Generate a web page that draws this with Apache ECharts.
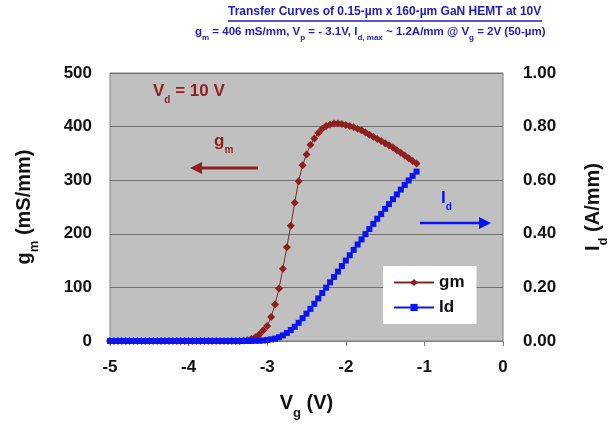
<!DOCTYPE html>
<html>
<head>
<meta charset="utf-8">
<script src="https://cdn.jsdelivr.net/npm/echarts@6/dist/echarts.min.js"></script>
<style>html,body{margin:0;padding:0;background:#fff}#c{width:611px;height:427px}</style>
</head>
<body>
<div id="c"></div>
<script>
var vg = [-5,-4.95,-4.9,-4.85,-4.8,-4.75,-4.7,-4.65,-4.6,-4.55,-4.5,-4.45,-4.4,-4.35,-4.3,-4.25,-4.2,-4.15,-4.1,-4.05,
-4,-3.95,-3.9,-3.85,-3.8,-3.75,-3.7,-3.65,-3.6,-3.55,-3.5,-3.45,-3.4,-3.35,-3.3,-3.25,-3.2,-3.15,-3.1,-3.05,
-3,-2.95,-2.9,-2.85,-2.8,-2.75,-2.7,-2.65,-2.6,-2.55,-2.5,-2.45,-2.4,-2.35,-2.3,-2.25,-2.2,-2.15,-2.1,-2.05,
-2,-1.95,-1.9,-1.85,-1.8,-1.75,-1.7,-1.65,-1.6,-1.55,-1.5,-1.45,-1.4,-1.35,-1.3,-1.25,-1.2,-1.15,-1.1];
var gm = [0,0,0,0,0,0,0,0,0,0,0,0,0,0,0,0,0,0,0,0,
0,0,0,0,0,0,0,0,0,0,0,0,0,0,1,2,4,7,12,20,
28,45,68,98,135,175,215,258,298,328,348,366,378,388,396,401,404,406,406,405,
403,401,399,396,393,389,385,381,377,373,369,365,361,356,351,346,341,336,331];
var id = [0,0,0,0,0,0,0,0,0,0,0,0,0,0,0,0,0,0,0,0,
0,0,0,0,0,0,0,0,0,0,0,0,0,0,0,0,0,0.001,0.001,0.002,
0.004,0.006,0.009,0.014,0.021,0.030,0.041,0.053,0.068,0.085,0.102,0.120,0.139,0.159,0.179,0.199,0.219,0.239,0.259,0.280,
0.300,0.320,0.340,0.360,0.379,0.399,0.418,0.437,0.456,0.474,0.493,0.511,0.529,0.547,0.565,0.582,0.599,0.616,0.632];
var xTicks = [-5,-4,-3,-2,-1,0];
var gmTicks = [0,100,200,300,400,500];
var idTicks = [0,0.2,0.4,0.6,0.8,1.0];

var FONT = 'Liberation Sans, Arial, sans-serif';
var RED = '#8f1f1f', BLUE = '#0a14f0', TBLUE = '#2020b8';

function pairs(xs, ys){ return xs.map(function(x,i){ return [x, ys[i]]; }); }
function nameRich(){ return {a:{fontFamily:FONT,fontWeight:'bold',fontSize:20,color:'#111'},s:{fontFamily:FONT,fontWeight:'bold',fontSize:13,color:'#111',verticalAlign:'bottom',padding:[0,0,-7,0]}}; }

var chart = echarts.init(document.getElementById('c'));
var axisLabel = {color:'#111', fontFamily:FONT, fontWeight:'bold', fontSize:17};
chart.setOption({
  backgroundColor:'#fff',
  animation:false,
  grid:{left:110, right:108, top:73, bottom:86, containLabel:false, outerBoundsMode:'none', show:true, backgroundColor:'#c0c0c0', borderColor:'#808080', borderWidth:1},
  xAxis:{type:'value', min:xTicks[0], max:xTicks[xTicks.length-1], interval:1,
    name:'{a|V}{s|g}{a| (V)}', nameLocation:'middle', nameGap:52,
    nameTextStyle:{rich:nameRich()},
    axisLine:{show:true, onZero:false, lineStyle:{color:'#808080'}}, axisTick:{show:true, length:5, lineStyle:{color:'#808080'}},
    axisLabel:Object.assign({margin:18}, axisLabel), splitLine:{show:false}},
  yAxis:[{type:'value', min:gmTicks[0], max:gmTicks[gmTicks.length-1], interval:100, position:'left',
      name:'{a|g}{s|m}{a| (mS/mm)}', nameLocation:'middle', nameGap:76, nameRotate:90,
      nameTextStyle:{rich:nameRich()},
      axisLine:{show:false}, axisTick:{show:false}, axisLabel:Object.assign({margin:18}, axisLabel),
      splitLine:{show:true, lineStyle:{color:'#707070', width:1}}},
    {type:'value', min:idTicks[0], max:idTicks[idTicks.length-1], interval:0.2, position:'right',
      name:'{a|I}{s|d}{a| (A/mm)}', nameLocation:'middle', nameGap:80, nameRotate:90,
      nameTextStyle:{rich:nameRich()},
      axisLine:{show:false}, axisTick:{show:false},
      axisLabel:Object.assign({margin:20, formatter:function(v){return v.toFixed(2);}}, axisLabel),
      splitLine:{show:false}}],
  legend:{left:383, top:266, orient:'vertical', backgroundColor:'#fff', padding:[8,12,8,10], itemGap:8,
    itemWidth:40, itemHeight:9, textStyle:{fontFamily:FONT, fontWeight:'bold', fontSize:17, color:'#111'},
    data:['gm','Id']},
  series:[
    {name:'gm', type:'line', yAxisIndex:0, data:pairs(vg, gm), symbol:'diamond', symbolSize:8,
      itemStyle:{color:RED}, lineStyle:{color:'#7a2a2a', width:1}, z:2},
    {name:'Id', type:'line', yAxisIndex:1, data:pairs(vg, id), symbol:'rect', symbolSize:6,
      itemStyle:{color:BLUE}, lineStyle:{color:BLUE, width:1.5}, z:3}
  ],
  graphic:[
    {type:'text', left:228, top:6, style:{text:'Transfer Curves of 0.15-µm x 160-µm GaN HEMT at 10V', fill:TBLUE, font:'bold 12px '+FONT}},
    {type:'text', left:195, top:26, style:{rich:{a:{fill:TBLUE,font:'bold 11.5px '+FONT},s:{fill:TBLUE,font:'bold 8px '+FONT,verticalAlign:'bottom',padding:[0,0,-4,0]}},
      text:'{a|g}{s|m}{a| = 406 mS/mm, V}{s|p}{a| = - 3.1V, I}{s|d, max}{a| ~ 1.2A/mm @ V}{s|g}{a| = 2V (50-µm)}'}},
    {type:'line', shape:{x1:228, y1:21, x2:542, y2:21}, style:{stroke:TBLUE, lineWidth:1.5}},
    {type:'text', left:153, top:83, style:{rich:{a:{fill:RED,font:'bold 17px '+FONT},s:{fill:RED,font:'bold 10px '+FONT,verticalAlign:'bottom',padding:[0,0,-5,0]}}, text:'{a|V}{s|d}{a| = 10 V}'}},
    {type:'text', left:214, top:133, style:{rich:{a:{fill:RED,font:'bold 17px '+FONT},s:{fill:RED,font:'bold 10px '+FONT,verticalAlign:'bottom',padding:[0,0,-5,0]}}, text:'{a|g}{s|m}'}},
    {type:'line', shape:{x1:200, y1:168, x2:258, y2:168}, style:{stroke:RED, lineWidth:3}},
    {type:'polygon', shape:{points:[[190,168],[202,162],[202,174]]}, style:{fill:RED}},
    {type:'text', left:441, top:190, style:{rich:{a:{fill:BLUE,font:'bold 17px '+FONT},s:{fill:BLUE,font:'bold 10px '+FONT,verticalAlign:'bottom',padding:[0,0,-5,0]}}, text:'{a|I}{s|d}'}},
    {type:'line', shape:{x1:420, y1:223, x2:480, y2:223}, style:{stroke:BLUE, lineWidth:2.5}},
    {type:'polygon', shape:{points:[[491,223],[479,217],[479,229]]}, style:{fill:BLUE}}
  ]
});
</script>
</body>
</html>
